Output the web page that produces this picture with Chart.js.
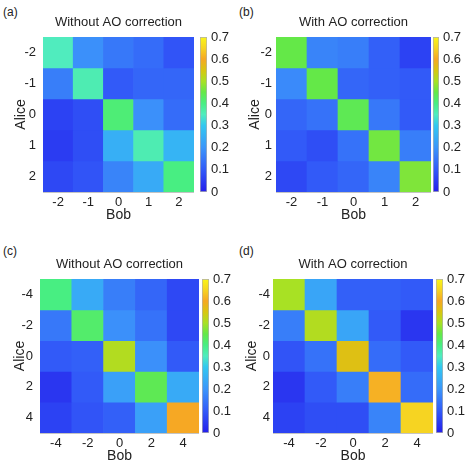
<!DOCTYPE html>
<html>
<head>
<meta charset="utf-8">
<script src="https://cdn.jsdelivr.net/npm/chart.js@4.4.1/dist/chart.umd.min.js"></script>
<style>
  body { margin: 0; background: #fff; }
  #wrap { position: relative; width: 474px; height: 468px; font-family: "Liberation Sans", Arial, sans-serif; }
  #wrap canvas { position: absolute; }
  .tag { position: absolute; font-size: 12px; color: #222; line-height: 14px; }
</style>
</head>
<body>
<div id="wrap">
  <div class="tag" style="left:3px;top:5px">(a)</div>
  <div class="tag" style="left:239px;top:5px">(b)</div>
  <div class="tag" style="left:3px;top:244px">(c)</div>
  <div class="tag" style="left:239px;top:244px">(d)</div>
</div>
<script>
// axis labels
const bobSmall = ["-2", "-1", "0", "1", "2"];
const aliceSmall = ["-2", "-1", "0", "1", "2"];
const bobLarge = ["-4", "-2", "0", "2", "4"];
const aliceLarge = ["-4", "-2", "0", "2", "4"];

// rows = Alice (top to bottom), columns = Bob (left to right)
const valuesA = [
  [0.35, 0.19, 0.15, 0.13, 0.09],
  [0.16, 0.36, 0.10, 0.12, 0.12],
  [0.06, 0.08, 0.41, 0.19, 0.13],
  [0.05, 0.08, 0.25, 0.36, 0.26],
  [0.07, 0.09, 0.17, 0.24, 0.40],
];
const valuesB = [
  [0.45, 0.17, 0.16, 0.11, 0.06],
  [0.18, 0.45, 0.12, 0.11, 0.10],
  [0.12, 0.14, 0.44, 0.15, 0.10],
  [0.10, 0.08, 0.14, 0.46, 0.16],
  [0.07, 0.10, 0.12, 0.17, 0.47],
];
const valuesC = [
  [0.40, 0.24, 0.16, 0.12, 0.07],
  [0.15, 0.42, 0.19, 0.14, 0.07],
  [0.10, 0.11, 0.51, 0.19, 0.10],
  [0.04, 0.10, 0.22, 0.44, 0.24],
  [0.06, 0.09, 0.11, 0.22, 0.60],
];
const valuesD = [
  [0.50, 0.23, 0.11, 0.11, 0.10],
  [0.16, 0.51, 0.23, 0.10, 0.04],
  [0.09, 0.14, 0.56, 0.13, 0.10],
  [0.04, 0.10, 0.16, 0.61, 0.13],
  [0.06, 0.08, 0.08, 0.17, 0.65],
];

const titleWithout = "Without AO correction";
const titleWith = "With AO correction";

// colour scale
const cbMin = 0;
const cbMax = 0.7;
const cbStep = 0.1;
const cmapStops = [
  [0.00, [36, 30, 235]],
  [0.10, [50, 90, 248]],
  [0.20, [60, 150, 250]],
  [0.30, [50, 200, 240]],
  [0.35, [80, 236, 190]],
  [0.40, [72, 238, 130]],
  [0.45, [100, 232, 72]],
  [0.50, [168, 225, 36]],
  [0.55, [216, 198, 16]],
  [0.60, [246, 168, 36]],
  [0.65, [246, 212, 34]],
  [0.70, [250, 246, 24]],
];

const TEXT = "#222";
Chart.defaults.font.family = '"Liberation Sans", Arial, sans-serif';
Chart.defaults.color = TEXT;

function rgb(c) {
  return "rgb(" + c.map(Math.round).join(",") + ")";
}

function colorAt(v) {
  if (v <= cmapStops[0][0]) return rgb(cmapStops[0][1]);
  for (let i = 1; i < cmapStops.length; i++) {
    const [v1, c1] = cmapStops[i];
    if (v <= v1) {
      const [v0, c0] = cmapStops[i - 1];
      const f = (v - v0) / (v1 - v0);
      return rgb(c0.map((x, k) => x + (c1[k] - x) * f));
    }
  }
  return rgb(cmapStops[cmapStops.length - 1][1]);
}

function addCanvas(left, top, w, h) {
  const c = document.createElement("canvas");
  c.width = w;
  c.height = h;
  c.style.left = left + "px";
  c.style.top = top + "px";
  document.getElementById("wrap").appendChild(c);
  return c;
}

const X_AXIS_H = 32;

function makeHeatmap(p, values, bob, alice, title) {
  const canvas = addCanvas(p.cl, p.ct, p.R - p.cl, p.B - p.ct + X_AXIS_H);
  const titleTop = p.T - 15 - 7.8 - p.ct;
  new Chart(canvas, {
    type: "bar",
    data: {
      labels: bob,
      datasets: alice.map((a, i) => ({
        label: a,
        data: bob.map(() => 1),
        backgroundColor: values[i].map(colorAt),
        borderWidth: 0,
        barPercentage: 1,
        categoryPercentage: 1,
      })),
    },
    options: {
      responsive: false,
      animation: false,
      plugins: {
        legend: { display: false },
        tooltip: { enabled: false },
        title: {
          display: true,
          text: title,
          fullSize: false,
          color: TEXT,
          font: { size: 13, weight: "normal" },
          padding: { top: titleTop, bottom: p.T - p.ct - titleTop - 15.6 },
        },
      },
      scales: {
        x: {
          stacked: true,
          grid: { display: false, drawTicks: false },
          border: { color: "#c4c4c4" },
          ticks: { padding: 3, font: { size: 13 } },
          title: { display: true, text: "Bob", font: { size: 14 }, padding: 0 },
          afterFit: (s) => { s.height = X_AXIS_H; },
        },
        y: {
          stacked: true,
          reverse: true,
          min: 0,
          max: alice.length,
          grid: { display: false, drawTicks: false },
          border: { color: "#c4c4c4" },
          afterBuildTicks: (s) => {
            s.ticks = alice.map((_, i) => ({ value: i + 0.5 }));
          },
          ticks: {
            padding: p.tp,
            font: { size: 13 },
            callback: (v) => alice[Math.floor(v)],
          },
          title: {
            display: true,
            text: "Alice",
            font: { size: 14 },
            padding: { top: p.ax - p.cl - 8.4, bottom: 0 },
          },
          afterFit: (s) => { s.width = p.L - p.cl; },
        },
      },
    },
  });
}

function makeColorbar(p) {
  const canvas = addCanvas(p.cbL, p.ct, p.cbW + 30, p.B - p.ct + X_AXIS_H);
  new Chart(canvas, {
    type: "bar",
    data: {
      labels: [""],
      datasets: [{
        data: [[cbMin, cbMax]],
        backgroundColor: (ctx) => {
          const area = ctx.chart.chartArea;
          if (!area) return null;
          const g = ctx.chart.ctx.createLinearGradient(0, area.bottom, 0, area.top);
          cmapStops.forEach(([v, c]) => g.addColorStop((v - cbMin) / (cbMax - cbMin), rgb(c)));
          return g;
        },
        borderColor: "#b0b0b0",
        borderWidth: 1,
        borderSkipped: false,
        barPercentage: 1,
        categoryPercentage: 1,
      }],
    },
    options: {
      responsive: false,
      animation: false,
      layout: { padding: { top: p.T - p.ct, bottom: X_AXIS_H } },
      plugins: { legend: { display: false }, tooltip: { enabled: false } },
      scales: {
        x: { display: false },
        y: {
          position: "right",
          min: cbMin,
          max: cbMax,
          grid: { display: false, drawTicks: false },
          border: { display: false },
          ticks: {
            stepSize: cbStep,
            padding: 4,
            font: { size: 13 },
            callback: (v) => (v === 0 ? "0" : v.toFixed(1)),
          },
          afterFit: (s) => { s.width = 30; },
        },
      },
    },
  });
}

// panel geometry: canvas origin, plot box, alice title x, tick padding, colorbar
const panelA = { cl: 0, ct: 0, L: 43, R: 194, T: 37, B: 192, ax: 21, tp: 7, cbL: 200, cbW: 7 };
const panelB = { cl: 237, ct: 0, L: 276, R: 431, T: 37, B: 192, ax: 255, tp: 4, cbL: 433, cbW: 6 };
const panelC = { cl: 0, ct: 234, L: 40, R: 199, T: 279, B: 433, ax: 20, tp: 7, cbL: 202, cbW: 7 };
const panelD = { cl: 237, ct: 234, L: 273, R: 433, T: 279, B: 433, ax: 252, tp: 3, cbL: 436, cbW: 7 };

makeHeatmap(panelA, valuesA, bobSmall, aliceSmall, titleWithout);
makeColorbar(panelA);
makeHeatmap(panelB, valuesB, bobSmall, aliceSmall, titleWith);
makeColorbar(panelB);
makeHeatmap(panelC, valuesC, bobLarge, aliceLarge, titleWithout);
makeColorbar(panelC);
makeHeatmap(panelD, valuesD, bobLarge, aliceLarge, titleWith);
makeColorbar(panelD);
</script>
</body>
</html>
